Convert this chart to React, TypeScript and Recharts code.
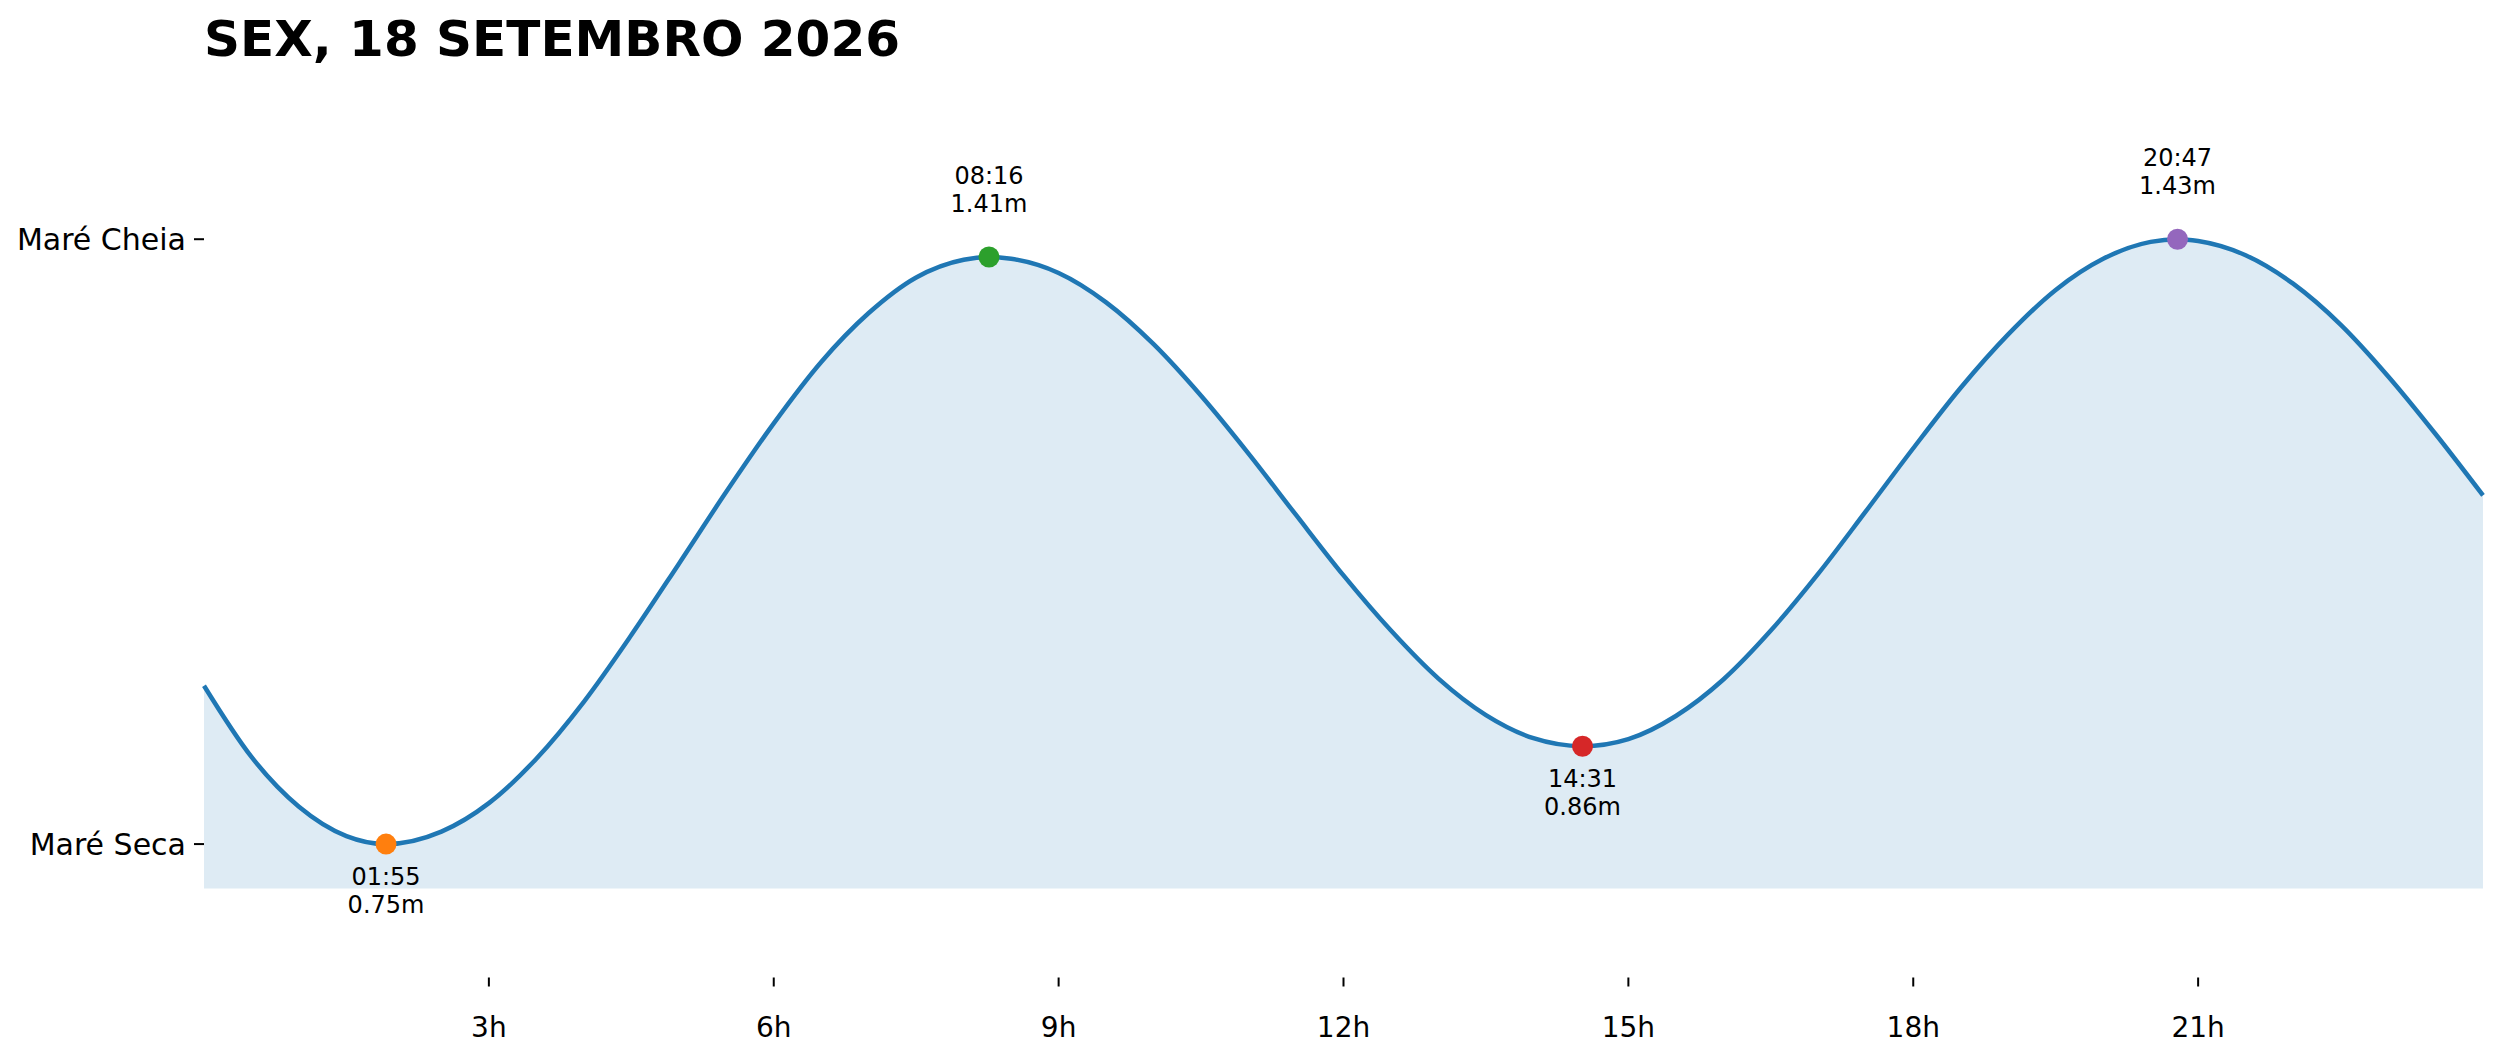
import { ComposedChart, Area, XAxis, YAxis, ReferenceDot } from 'recharts';

// tide curve (hour of day, level in metres)
const hours = [
  0, 0.5, 1, 1.5, 1.917, 2.5, 3, 3.5, 4, 4.5, 5, 5.5, 6, 6.5, 7, 7.5, 8, 8.267, 8.5, 9, 9.5, 10, 10.5, 11, 11.5, 12,
  12.5, 13, 13.5, 14, 14.517, 15, 15.5, 16, 16.5, 17, 17.5, 18, 18.5, 19, 19.5, 20, 20.5, 20.783, 21, 21.5, 22, 22.5,
  23, 23.5, 24,
];
const tideLevel = [
  0.928, 0.848, 0.792, 0.759, 0.75, 0.764, 0.796, 0.846, 0.91, 0.985, 1.065, 1.146, 1.223, 1.292, 1.347, 1.387, 1.407,
  1.41, 1.408, 1.392, 1.359, 1.312, 1.254, 1.189, 1.12, 1.052, 0.99, 0.936, 0.895, 0.869, 0.86, 0.868, 0.894, 0.935,
  0.99, 1.054, 1.124, 1.195, 1.263, 1.323, 1.373, 1.408, 1.427, 1.43, 1.428, 1.412, 1.38, 1.334, 1.276, 1.211, 1.142,
];

// high / low water marks
const extremeHours = [1.917, 8.267, 14.517, 20.783];
const extremeLevels = [0.75, 1.41, 0.86, 1.43];
const extremeLabels = ['01:55', '08:16', '14:31', '20:47'];
const extremeKinds = ['low', 'high', 'low', 'high'];
const extremeColors = ['#ff7f0e', '#2ca02c', '#d62728', '#9467bd'];

const xTicks = [3, 6, 9, 12, 15, 18, 21];
const yTicks = [0.75, 1.43];
const yTickLabels = ['Maré Seca', 'Maré Cheia'];

const TITLE = 'SEX, 18 SETEMBRO 2026';
const FONT = '"DejaVu Sans", sans-serif';

const data = hours.map((h, i) => ({ hour: h, level: tideLevel[i] }));

function ExtremeMark(props: any) {
  const { cx, cy, color, time, level, kind } = props;
  const up = kind === 'high';
  const l1 = up ? cy - 73 : cy + 41;
  const l2 = up ? cy - 45.5 : cy + 69;
  return (
    <g>
      <circle cx={cx} cy={cy} r={10.5} fill={color} />
      <text x={cx} y={l1} textAnchor="middle" fontSize={24} fontFamily={FONT} fill="#000">{time}</text>
      <text x={cx} y={l2} textAnchor="middle" fontSize={24} fontFamily={FONT} fill="#000">{`${level.toFixed(2)}m`}</text>
    </g>
  );
}

export default function App() {
  return (
    <div style={{ position: 'absolute', left: 0, top: 0, width: 2501, height: 1062, background: '#fff' }}>
      <div
        style={{
          position: 'absolute',
          left: 204,
          top: 13.5,
          fontFamily: FONT,
          fontWeight: 'bold',
          fontSize: 50,
          lineHeight: '50px',
          color: '#000',
          whiteSpace: 'nowrap',
        }}
      >
        {TITLE}
      </div>
      <ComposedChart
        width={2501}
        height={1062}
        data={data}
        margin={{ top: 88, right: 18, bottom: 0, left: 0 }}
      >
        <XAxis
          dataKey="hour"
          type="number"
          domain={[0, 24]}
          ticks={xTicks}
          tickFormatter={(v: number) => `${v}h`}
          axisLine={false}
          tickLine={{ stroke: '#000', strokeWidth: 2 }}
          tickSize={9}
          tickMargin={31}
          height={84.5}
          tick={{ fontSize: 28, fontFamily: FONT, fill: '#000' }}
          interval={0}
        />
        <YAxis
          type="number"
          domain={[0.6, 1.6]}
          allowDataOverflow
          ticks={yTicks}
          tickFormatter={(v: number) => yTickLabels[yTicks.indexOf(v)] ?? ''}
          axisLine={false}
          tickLine={{ stroke: '#000', strokeWidth: 2 }}
          tickSize={10}
          tickMargin={8}
          width={204}
          tick={{ fontSize: 30, fontFamily: FONT, fill: '#000' }}
          interval={0}
        />
        <Area
          type="monotone"
          dataKey="level"
          baseValue={0.7}
          stroke="#1f77b4"
          strokeWidth={4.5}
          fill="#1f77b4"
          fillOpacity={0.15}
          dot={false}
          activeDot={false}
          isAnimationActive={false}
        />
        {extremeHours.map((h, i) => (
          <ReferenceDot
            key={extremeLabels[i]}
            x={h}
            y={extremeLevels[i]}
            r={10.5}
            ifOverflow="visible"
            shape={(p: any) => (
              <ExtremeMark
                cx={p.cx}
                cy={p.cy}
                color={extremeColors[i]}
                time={extremeLabels[i]}
                level={extremeLevels[i]}
                kind={extremeKinds[i]}
              />
            )}
          />
        ))}
      </ComposedChart>
    </div>
  );
}
